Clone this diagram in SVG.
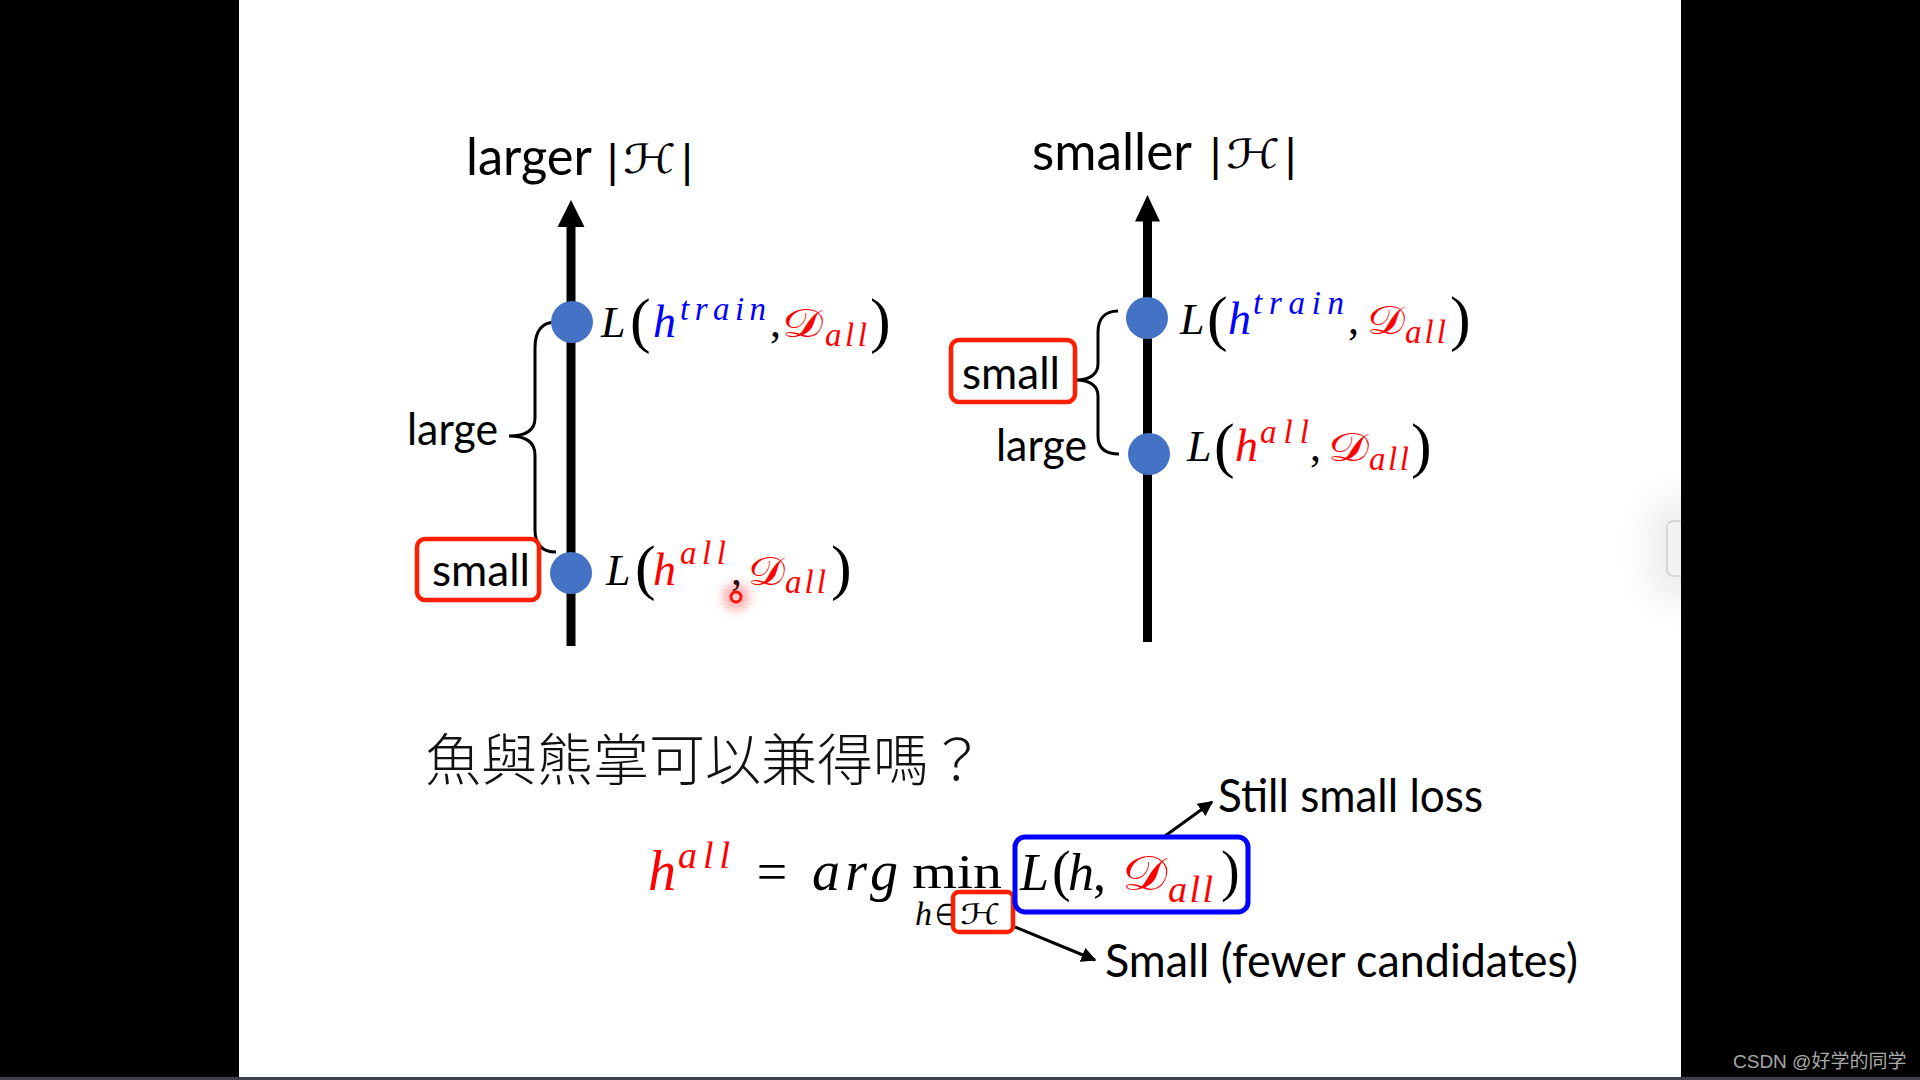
<svg xmlns="http://www.w3.org/2000/svg" width="1920" height="1080" viewBox="0 0 1920 1080">
  <defs>
    <style>
      .lbl { font-family: Lato, "Open Sans", "Liberation Sans", sans-serif; fill: #000; }
      .mi { font-family: "Liberation Serif", serif; font-style: italic; }
      .mu { font-family: "Liberation Serif", serif; }
      .bar { font-family: "DejaVu Sans", sans-serif; fill: #000; }
      .scr { font-family: "DejaVu Serif", "DejaVu Sans", "Noto Sans", serif; }
      .cjk { font-family: "Noto Sans CJK TC", "Noto Sans CJK SC", sans-serif; font-weight: 300; fill: #111; }
      .red { fill: #ff0000; }
      .blue { fill: #0000ff; }
      .blk { fill: #000; }
      .dot { fill: #4472c4; }
      .redbox { fill: none; stroke: #ff1e00; stroke-width: 4.5; }
      .bluebox { fill: none; stroke: #0000ff; stroke-width: 5; }
      .axis { stroke: #000; stroke-width: 9; fill: none; }
      .brace { stroke: #000; stroke-width: 3; fill: none; }
      .arr { stroke: #000; stroke-width: 3; fill: none; marker-end: url(#ah); }
    </style>
    <marker id="ah" viewBox="0 0 10 10" refX="9" refY="5" markerWidth="5" markerHeight="5" markerUnits="strokeWidth" orient="auto">
      <path d="M0,0 L10,5 L0,10 z" fill="#000"/>
    </marker>
    <filter id="blur" x="-1" y="-1" width="3" height="3"><feGaussianBlur stdDeviation="5"/></filter>
    <filter id="soft" x="-1" y="-1" width="3" height="3"><feGaussianBlur stdDeviation="18"/></filter>
  </defs>

  <!-- screen background -->
  <rect x="0" y="0" width="1920" height="1080" fill="#000"/>
  <rect x="239" y="0" width="1442" height="1077" fill="#fff"/>
  <rect x="0" y="1077" width="1920" height="3" fill="#3c414c"/>
  <rect x="1650" y="500" width="60" height="100" rx="20" fill="#000" opacity="0.08" filter="url(#soft)"/>
  <rect x="1667" y="521" width="30" height="55" rx="6" fill="#f2f2f2" stroke="#cfcfcf" stroke-width="1.5"/>
  <rect x="1681" y="440" width="239" height="220" fill="#000"/>
  <text x="1733" y="1068" font-family="'Liberation Sans', 'Noto Sans CJK SC', sans-serif" font-size="19" fill="#a8a8a8">CSDN @好学的同学</text>

  <!-- connectors: axes, braces, arrows -->
  <g id="connectors">
    <line class="axis" x1="571" y1="646" x2="571" y2="224"/>
    <polygon points="571,200 557.5,227 584.5,227" fill="#000"/>
    <line class="axis" x1="1147.5" y1="642" x2="1147.5" y2="218"/>
    <polygon points="1147.5,195 1135,221.5 1160,221.5" fill="#000"/>
    <path class="brace" d="M556,322 C541,322 535,332 535,348 L535,418 C535,430 526,436 509,436 C526,436 535,442 535,455 L535,530 C535,545 542,552 556,552"/>
    <path class="brace" d="M1118,311 C1104,311 1098,320 1098,332 L1098,364 C1098,374 1090,380 1076,380 C1090,380 1098,386 1098,396 L1098,436 C1098,447 1104,454 1119,454"/>
    <line class="arr" x1="1165" y1="836" x2="1212" y2="802"/>
    <line class="arr" x1="1015" y1="927" x2="1095" y2="960"/>
  </g>

  <!-- left panel -->
  <g id="title-left">
    <text class="lbl" x="466" y="175" font-size="53" textLength="126" lengthAdjust="spacingAndGlyphs">larger</text>
    <text class="bar" x="612.5" y="176" font-size="42" text-anchor="middle">|</text>
    <text class="scr" x="623" y="173" font-size="40" textLength="53" lengthAdjust="spacingAndGlyphs">ℋ</text>
    <text class="bar" x="687" y="176" font-size="42" text-anchor="middle">|</text>
  </g>

  <g id="node-left-train">
    <circle class="dot" cx="572" cy="322" r="21"/>
    <text class="mi blk" x="601" y="337" font-size="44">L</text>
    <text class="mu blk" x="630" y="341" font-size="62">(</text>
    <text class="mi blue" x="653" y="337" font-size="46">h</text>
    <text class="mi blue" x="680" y="320" font-size="33" textLength="86" lengthAdjust="spacing">train</text>
    <text class="mu blk" x="770" y="337" font-size="44">,</text>
    <text class="scr red" x="782" y="337" font-size="40" textLength="41" lengthAdjust="spacingAndGlyphs">𝒟</text>
    <text class="mi red" x="825" y="346" font-size="33" textLength="42" lengthAdjust="spacing">all</text>
    <text class="mu blk" x="870" y="341" font-size="62">)</text>
  </g>

  <g id="node-left-all">
    <circle class="dot" cx="571" cy="573" r="21"/>
    <text class="mi blk" x="606" y="585" font-size="44">L</text>
    <text class="mu blk" x="635" y="588" font-size="62">(</text>
    <text class="mi red" x="653" y="585" font-size="46">h</text>
    <text class="mi red" x="680" y="564" font-size="33" textLength="46" lengthAdjust="spacing">all</text>
    <text class="mu blk" x="731" y="585" font-size="44">,</text>
    <text class="scr red" x="748" y="585" font-size="40" textLength="37" lengthAdjust="spacingAndGlyphs">𝒟</text>
    <text class="mi red" x="785" y="593" font-size="33" textLength="41" lengthAdjust="spacing">all</text>
    <text class="mu blk" x="831" y="588" font-size="62">)</text>
  </g>

  <g id="label-left-large">
    <text class="lbl" x="407" y="445" font-size="45" textLength="91" lengthAdjust="spacingAndGlyphs">large</text>
  </g>
  <g id="label-left-small">
    <rect class="redbox" x="417" y="539" width="122" height="61" rx="8"/>
    <text class="lbl" x="432" y="586" font-size="45" textLength="98" lengthAdjust="spacingAndGlyphs">small</text>
  </g>

  <g id="cursor">
    <circle cx="736" cy="597" r="14" fill="#ff3030" opacity="0.35" filter="url(#blur)"/>
    <circle cx="736" cy="597" r="5" fill="#ffd0d0" stroke="#ff1010" stroke-width="3"/>
  </g>

  <!-- right panel -->
  <g id="title-right">
    <text class="lbl" x="1032" y="170" font-size="53" textLength="160" lengthAdjust="spacingAndGlyphs">smaller</text>
    <text class="bar" x="1215.5" y="170" font-size="42" text-anchor="middle">|</text>
    <text class="scr" x="1226" y="168" font-size="40" textLength="54" lengthAdjust="spacingAndGlyphs">ℋ</text>
    <text class="bar" x="1290.5" y="170" font-size="42" text-anchor="middle">|</text>
  </g>

  <g id="node-right-train">
    <circle class="dot" cx="1147" cy="318" r="21"/>
    <text class="mi blk" x="1180" y="334" font-size="44">L</text>
    <text class="mu blk" x="1207" y="339" font-size="62">(</text>
    <text class="mi blue" x="1228" y="334" font-size="46">h</text>
    <text class="mi blue" x="1253" y="314" font-size="33" textLength="91" lengthAdjust="spacing">train</text>
    <text class="mu blk" x="1348" y="334" font-size="44">,</text>
    <text class="scr red" x="1367" y="334" font-size="40" textLength="38" lengthAdjust="spacingAndGlyphs">𝒟</text>
    <text class="mi red" x="1405" y="343" font-size="33" textLength="41" lengthAdjust="spacing">all</text>
    <text class="mu blk" x="1450" y="339" font-size="62">)</text>
  </g>

  <g id="node-right-all">
    <circle class="dot" cx="1149" cy="454" r="21"/>
    <text class="mi blk" x="1187" y="461" font-size="44">L</text>
    <text class="mu blk" x="1214" y="466" font-size="62">(</text>
    <text class="mi red" x="1235" y="461" font-size="46">h</text>
    <text class="mi red" x="1260" y="443" font-size="33" textLength="49" lengthAdjust="spacing">all</text>
    <text class="mu blk" x="1310" y="461" font-size="44">,</text>
    <text class="scr red" x="1328" y="461" font-size="40" textLength="41" lengthAdjust="spacingAndGlyphs">𝒟</text>
    <text class="mi red" x="1369" y="470" font-size="33" textLength="40" lengthAdjust="spacing">all</text>
    <text class="mu blk" x="1411" y="466" font-size="62">)</text>
  </g>

  <g id="label-right-small">
    <rect class="redbox" x="951" y="340" width="124" height="62" rx="8"/>
    <text class="lbl" x="962" y="389" font-size="45" textLength="98" lengthAdjust="spacingAndGlyphs">small</text>
  </g>
  <g id="label-right-large">
    <text class="lbl" x="996" y="461" font-size="45" textLength="91" lengthAdjust="spacingAndGlyphs">large</text>
  </g>

  <!-- bottom -->
  <g id="question">
    <text class="cjk" x="425" y="780" font-size="56">魚與熊掌可以兼得嗎？</text>
  </g>

  <g id="formula">
    <text class="mi red" x="648" y="890" font-size="56">h</text>
    <text class="mi red" x="678" y="868" font-size="38" textLength="52" lengthAdjust="spacing">all</text>
    <text class="mu blk" x="772" y="890" font-size="54" text-anchor="middle">=</text>
    <text class="mi blk" x="812" y="890" font-size="56" textLength="86" lengthAdjust="spacing">arg</text>
    <text class="mu blk" x="912" y="888" font-size="48" textLength="90" lengthAdjust="spacingAndGlyphs">min</text>
    <text class="mi blk" x="915" y="925" font-size="34">h</text>
    <text class="mu blk" x="935" y="925" font-size="30" textLength="20" lengthAdjust="spacingAndGlyphs">∈</text>
    <text class="scr blk" x="960" y="924" font-size="28" textLength="40" lengthAdjust="spacingAndGlyphs">ℋ</text>
    <text class="mi blk" x="1020" y="890" font-size="52">L</text>
    <text class="mu blk" x="1052" y="890" font-size="56">(</text>
    <text class="mi blk" x="1068" y="890" font-size="52">h</text>
    <text class="mu blk" x="1093" y="890" font-size="52">,</text>
    <text class="scr red" x="1122" y="890" font-size="48" textLength="45" lengthAdjust="spacingAndGlyphs">𝒟</text>
    <text class="mi red" x="1168" y="902" font-size="38" textLength="45" lengthAdjust="spacing">all</text>
    <text class="mu blk" x="1221" y="890" font-size="56">)</text>
  </g>

  <g id="box-hypothesis">
    <rect class="redbox" x="953" y="892" width="60" height="40" rx="6"/>
  </g>
  <g id="box-loss">
    <rect class="bluebox" x="1015" y="837" width="233" height="75" rx="10"/>
  </g>

  <g id="label-still">
    <text class="lbl" x="1218" y="812" font-size="46" textLength="265" lengthAdjust="spacingAndGlyphs">Still small loss</text>
  </g>
  <g id="label-fewer">
    <text class="lbl" x="1105" y="977" font-size="46" textLength="473" lengthAdjust="spacingAndGlyphs">Small (fewer candidates)</text>
  </g>
</svg>
